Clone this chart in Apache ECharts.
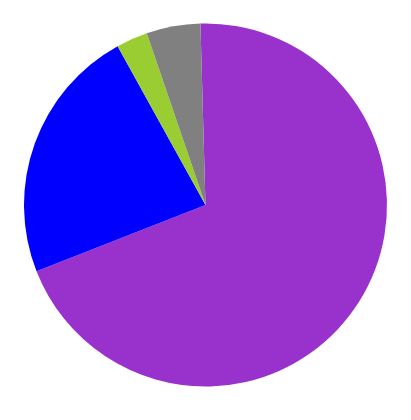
<!DOCTYPE html>
<html>
<head>
<meta charset="utf-8">
<script src="https://cdn.jsdelivr.net/npm/echarts@6/dist/echarts.min.js"></script>
<style>
  html, body { margin: 0; padding: 0; background: #fff; }
  #chart { width: 411px; height: 420px; }
</style>
</head>
<body>
<div id="chart"></div>
<script>
// slice data, clockwise from the top
var categories = ['A', 'B', 'C', 'D'];
var values = [69.5, 22.9, 2.8, 4.8];
var colors = ['#9932CC', '#0000FF', '#9ACD32', '#808080'];

var pieData = [];
categories.forEach(function (name, i) {
  pieData.push({ name: name, value: values[i], itemStyle: { color: colors[i] } });
});

var chart = echarts.init(document.getElementById('chart'), null, { renderer: 'canvas' });
chart.setOption({
  animation: false,
  tooltip: { show: false },
  series: [
    {
      type: 'pie',
      center: [205.5, 205],
      radius: 181.5,
      startAngle: 91.6,
      clockwise: true,
      label: { show: false },
      labelLine: { show: false },
      emphasis: { disabled: true },
      itemStyle: { borderWidth: 0 },
      data: pieData
    }
  ]
});
</script>
</body>
</html>
